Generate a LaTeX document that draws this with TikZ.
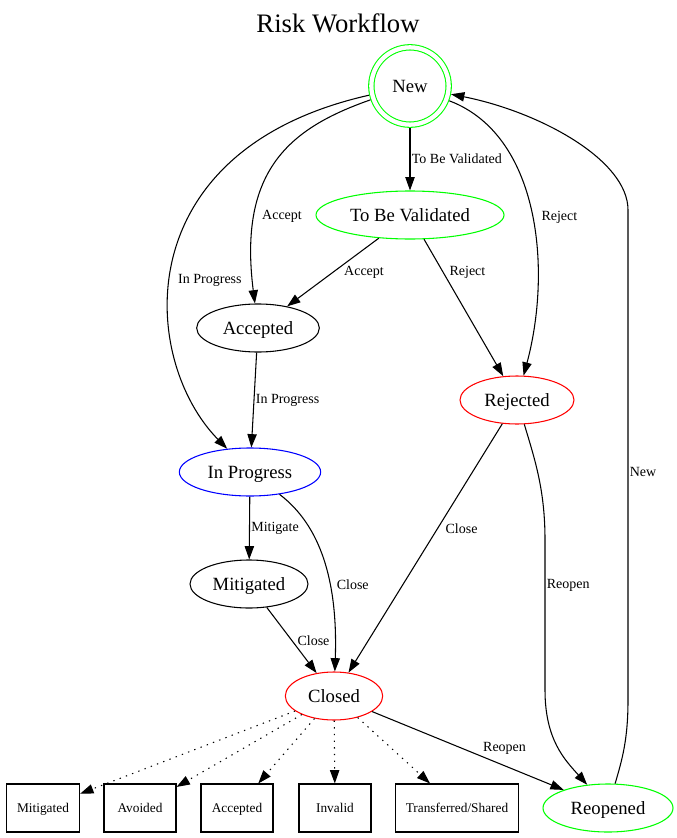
\documentclass[tikz,border=0pt]{standalone}
\usepackage{fontspec}
\setmainfont{Liberation Serif}
\usetikzlibrary{positioning, arrows.meta, shapes.geometric}

\begin{document}
\begin{tikzpicture}[
    x=0.75pt, y=-0.75pt,
    >={Triangle[length=10pt, width=7pt]},
    every node/.style={font=\fontsize{14}{16}\selectfont},
    wfstate/.style={ellipse, draw=black, line width=0.8pt, text height=12pt,
                    text depth=3pt, minimum height=36pt, inner sep=0pt},
    newstate/.style={circle, draw=green, double=white, double distance=3.2pt,
                     line width=0.8pt, minimum size=58pt, inner sep=0pt, outer sep=2.4pt},
    outbox/.style={rectangle, draw=black, line width=0.8pt, minimum width=54pt,
                   minimum height=36pt, inner xsep=8pt, text height=8pt, text depth=2pt,
                   font=\fontsize{10}{12}\selectfont},
    flow/.style={->, line width=0.8pt, draw=black},
    dotflow/.style={->, line width=0.8pt, draw=black, dash pattern=on 1pt off 4pt},
    lbl/.style={font=\fontsize{10.5}{12}\selectfont, inner sep=1pt},
]
\useasboundingbox (0,0) rectangle (677,838);

% Title
\node[font=\fontsize{20}{24}\selectfont] (title) at (338,23) {Risk Workflow};

% States
\node[newstate]                                   (new)    at (410,86)  {New};
\node[wfstate, draw=green, minimum width=141pt]   (tbv)    at (410,215) {To Be Validated};
\node[wfstate, minimum width=92pt]                (acc)    at (258,328) {Accepted};
\node[wfstate, draw=red, minimum width=85.5pt]    (rej)    at (517,400) {Rejected};
\node[wfstate, draw=blue, minimum width=106pt]    (inprog) at (250,472) {In Progress};
\node[wfstate, minimum width=88.5pt]              (mit)    at (249,584) {Mitigated};
\node[wfstate, draw=red, minimum width=73pt]      (closed) at (334,696) {Closed};
\node[wfstate, draw=green, minimum width=97.5pt]  (reop)   at (608,808) {Reopened};

% Resolutions
\node[outbox] (rmit)   at (43,808)  {Mitigated};
\node[outbox] (ravo)   at (140,808) {Avoided};
\node[outbox] (racc)   at (237,808) {Accepted};
\node[outbox] (rinv)   at (335,808) {Invalid};
\node[outbox] (rtrans) at (457,808) {Transferred/Shared};

% Transitions
\draw[flow] (new) -- (tbv) node[lbl, midway, right] {To Be Validated};
\draw[flow] (new) .. controls (290,128) and (238,170) .. (acc)
    node[lbl, pos=0.74, right=4pt] {Accept};
\draw[flow] (new) .. controls (125,150) and (140,360) .. (inprog)
    node[lbl, pos=0.55, right=4.5pt] {In Progress};
\draw[flow] (new) .. controls (540,135) and (552,270) .. (rej)
    node[lbl, pos=0.52, right=5.5pt] {Reject};
\draw[flow] (tbv) -- (acc) node[lbl, midway, right=7pt] {Accept};
\draw[flow] (tbv) -- (rej) node[lbl, pos=0.24, right=3.5pt] {Reject};
\draw[flow] (acc) -- (inprog) node[lbl, midway, right] {In Progress};
\draw[flow] (inprog) -- (mit) node[lbl, midway, right] {Mitigate};
\draw[flow] (inprog) .. controls (320,525) and (338,580) .. (closed)
    node[lbl, pos=0.63, right=4pt] {Close};
\draw[flow] (mit) -- (closed) node[lbl, midway, right=3pt] {Close};
\draw[flow] (rej) -- (closed) node[lbl, pos=0.42, right=4.5pt] {Close};
\draw[flow] (rej) .. controls (535,460) and (545,490) .. (545,540)
    -- (545,690) node[lbl, pos=0.3, right] {Reopen}
    .. controls (545,740) and (565,760) .. (reop);
\draw[flow] (closed) -- (reop) node[lbl, pos=0.57, anchor=south west] {Reopen};
\draw[flow] (reop) .. controls (622,760) and (628,740) .. (628,700)
    -- (628,210) node[lbl, pos=0.465, right] {New}
    .. controls (628,160) and (540,112) .. (new);

% Closed resolutions
\draw[dotflow] (closed) -- (rmit);
\draw[dotflow] (closed) -- (ravo);
\draw[dotflow] (closed) -- (racc);
\draw[dotflow] (closed) -- (rinv);
\draw[dotflow] (closed) -- (rtrans);

\end{tikzpicture}
\end{document}
